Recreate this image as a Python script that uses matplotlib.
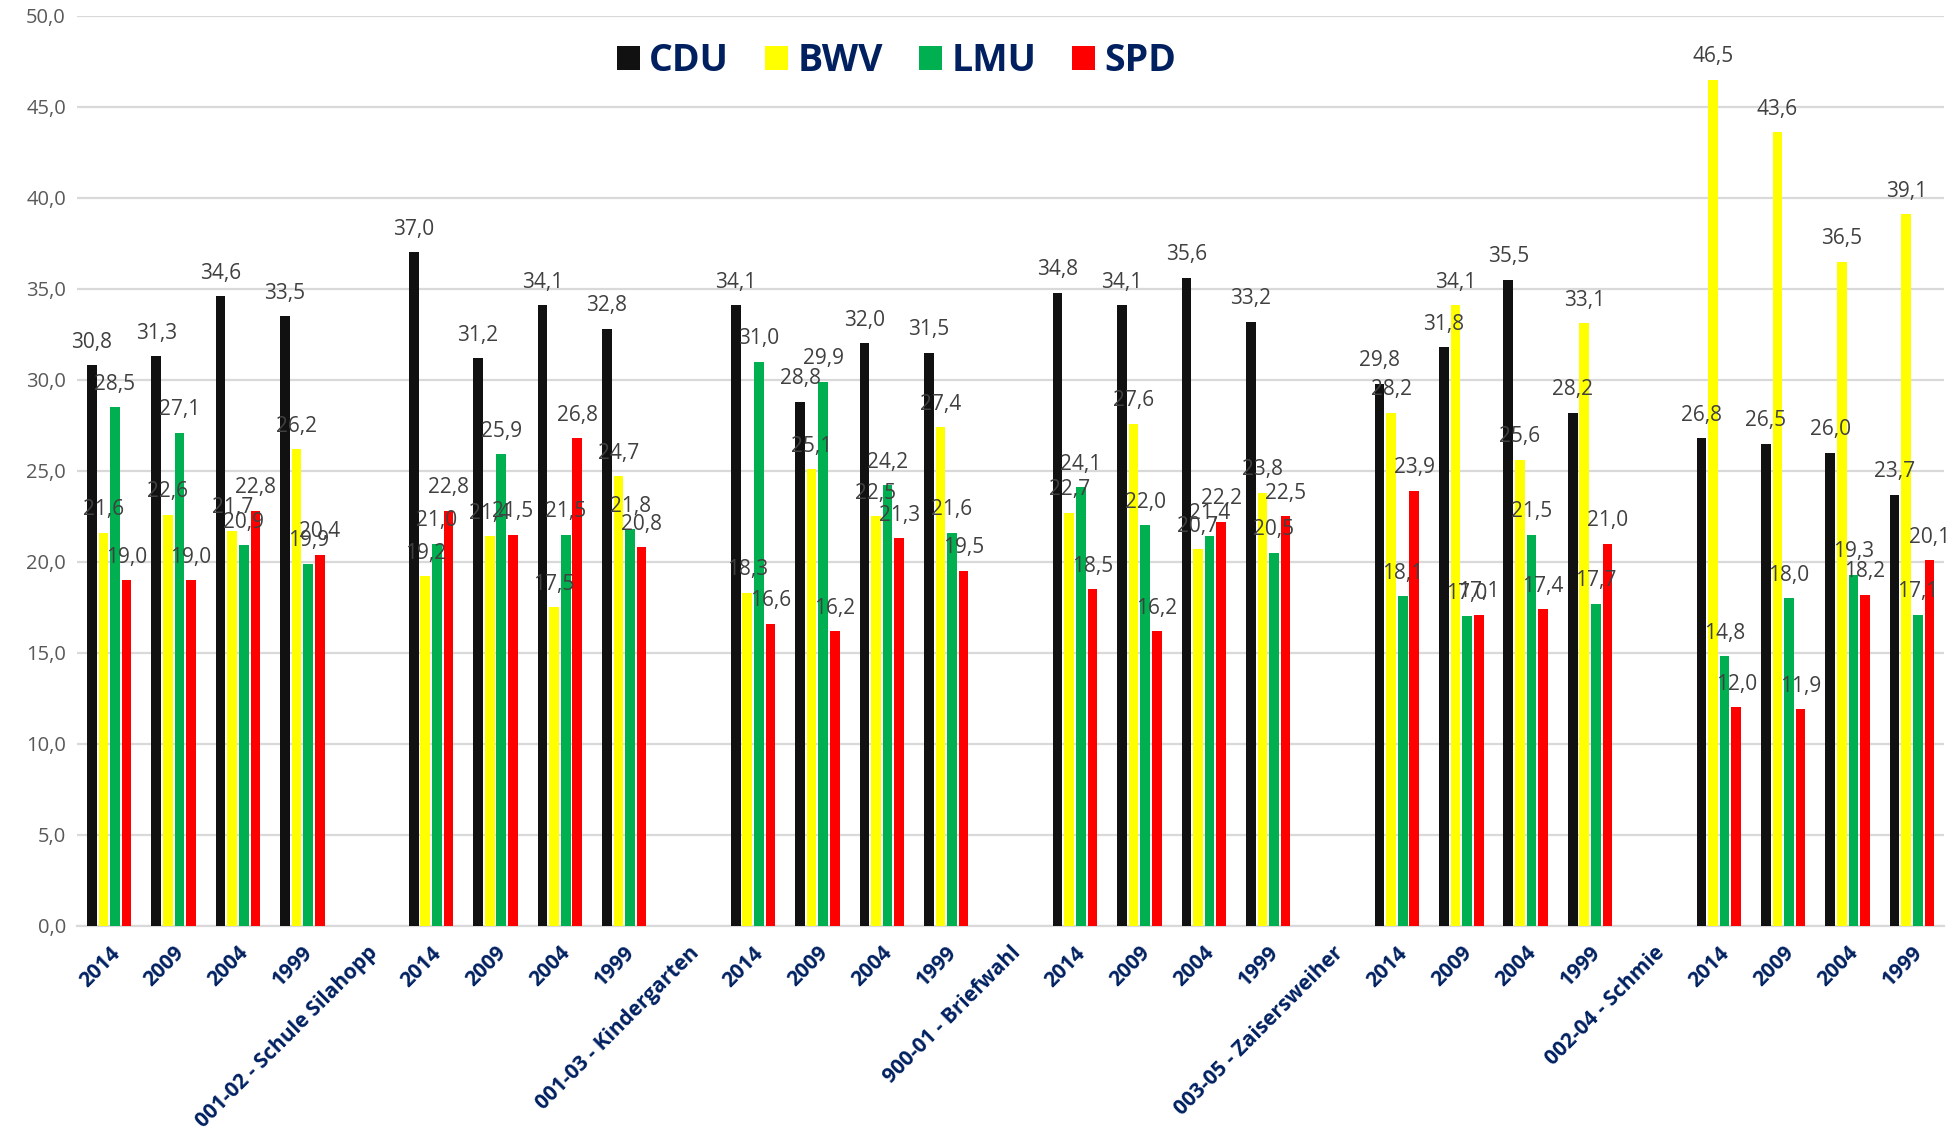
import matplotlib
matplotlib.use('Agg')
import matplotlib.pyplot as plt
import numpy as np

# x categories: 4 years per district, then the district name on an empty slot
years = ['2014', '2009', '2004', '1999']
districts = ['001-02 - Schule Silahopp', '001-03 - Kindergarten', '900-01 - Briefwahl',
             '003-05 - Zaisersweiher', '002-04 - Schmie']

parties = ['CDU', 'BWV', 'LMU', 'SPD']
colors = ['#111111', '#ffff00', '#00b050', '#ff0000']

# values per group of 4 years (2014, 2009, 2004, 1999)
cdu = [[30.8, 31.3, 34.6, 33.5],
       [37.0, 31.2, 34.1, 32.8],
       [34.1, 28.8, 32.0, 31.5],
       [34.8, 34.1, 35.6, 33.2],
       [29.8, 31.8, 35.5, 28.2],
       [26.8, 26.5, 26.0, 23.7]]
bwv = [[21.6, 22.6, 21.7, 26.2],
       [19.2, 21.4, 17.5, 24.7],
       [18.3, 25.1, 22.5, 27.4],
       [22.7, 27.6, 20.7, 23.8],
       [28.2, 34.1, 25.6, 33.1],
       [46.5, 43.6, 36.5, 39.1]]
lmu = [[28.5, 27.1, 20.9, 19.9],
       [21.0, 25.9, 21.5, 21.8],
       [31.0, 29.9, 24.2, 21.6],
       [24.1, 22.0, 21.4, 20.5],
       [18.1, 17.0, 21.5, 17.7],
       [14.8, 18.0, 19.3, 17.1]]
spd = [[19.0, 19.0, 22.8, 20.4],
       [22.8, 21.5, 26.8, 20.8],
       [16.6, 16.2, 21.3, 19.5],
       [18.5, 16.2, 22.2, 22.5],
       [23.9, 17.1, 17.4, 21.0],
       [12.0, 11.9, 18.2, 20.1]]

# build category list and x positions of the year slots
labels = []
year_pos = []
for g in range(6):
    for y in years:
        year_pos.append(len(labels))
        labels.append(y)
    if g < len(districts):
        labels.append(districts[g])
year_pos = np.array(year_pos)

fig = plt.figure(figsize=(19.54, 11.36), dpi=100)
ax = fig.add_axes([0.0394, 0.185, 0.9556, 0.801])

width = 0.15
pitch = 0.18
offsets = [-1.5 * pitch, -0.5 * pitch, 0.5 * pitch, 1.5 * pitch]
series = [cdu, bwv, lmu, spd]

for name, vals, col, off in zip(parties, series, colors, offsets):
    v = np.array(vals).flatten()
    bars = ax.bar(year_pos + off, v, width=width, color=col, label=name, zorder=3)
    for b, val in zip(bars, v):
        ax.annotate(f'{val:.1f}'.replace('.', ','),
                    (b.get_x() + b.get_width() / 2, b.get_height()),
                    xytext=(0, 9), textcoords='offset points',
                    ha='center', va='bottom', fontsize=15,
                    color='#404040', family='Open Sans', zorder=4)

ax.set_xlim(-0.5, len(labels) - 0.5)
ax.set_ylim(0, 50)
ax.set_yticks(np.arange(0, 50.1, 5))
ax.set_yticklabels([f'{t:.1f}'.replace('.', ',') for t in np.arange(0, 50.1, 5)],
                   fontsize=14.5, color='#595959', family='Open Sans')
ax.set_xticks(range(len(labels)))
ax.set_xticklabels(labels, rotation=45, ha='right', rotation_mode='anchor',
                   fontsize=15, fontweight='bold', color='#002060', family='Open Sans')
ax.tick_params(axis='both', length=0)
ax.tick_params(axis='x', pad=12)
ax.tick_params(axis='y', pad=8)

ax.grid(axis='y', color='#d9d9d9', linewidth=1.6, zorder=0)
for s in ['top', 'right', 'left']:
    ax.spines[s].set_visible(False)
ax.spines['bottom'].set_color('#d9d9d9')
ax.spines['bottom'].set_linewidth(1.6)

leg = ax.legend(loc='center left', bbox_to_anchor=(0.289, 0.95), ncol=4, frameon=False,
                prop={'family': 'Open Sans', 'weight': 'bold', 'size': 27},
                handlelength=0.62, handleheight=0.62, handletextpad=0.25,
                columnspacing=0.95, borderaxespad=0, borderpad=0)
for t in leg.get_texts():
    t.set_color('#002060')

fig.savefig('out.png', dpi=100)
